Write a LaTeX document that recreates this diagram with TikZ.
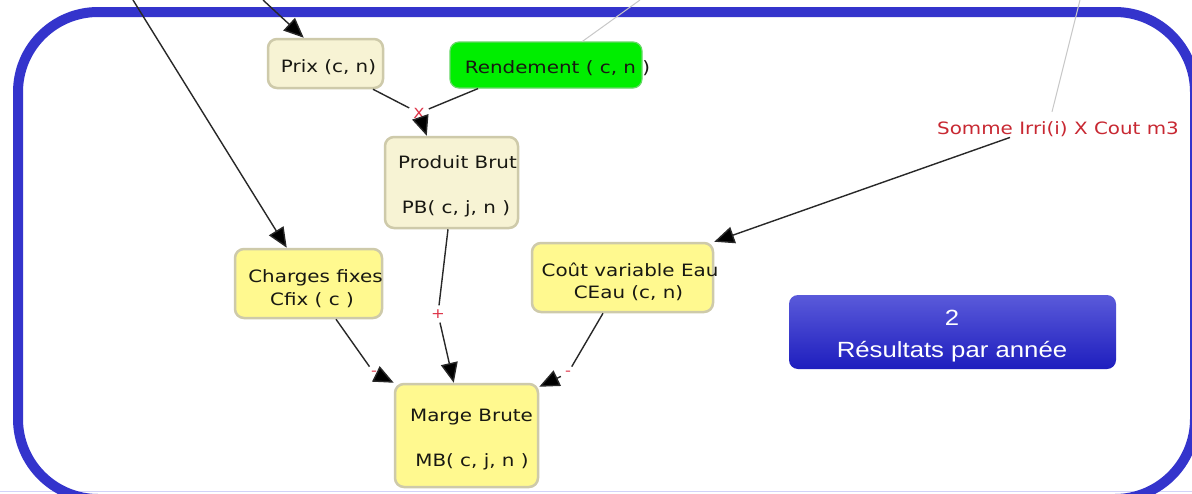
\documentclass[tikz,border=0pt]{standalone}
\usepackage{fontspec}
\setmainfont[FakeStretch=1.17]{DejaVu Sans}
\newfontfamily\btnfont[FakeStretch=1.17]{Liberation Sans}
\usetikzlibrary{arrows.meta,calc}
\definecolor{frameblue}{RGB}{52,52,204}
\definecolor{cream}{RGB}{247,243,212}
\definecolor{yel}{RGB}{255,249,143}
\definecolor{boxborder}{RGB}{206,202,170}
\definecolor{vgreen}{RGB}{0,238,0}
\definecolor{txtdark}{RGB}{24,24,18}
\definecolor{lblred}{RGB}{222,52,72}
\definecolor{somred}{RGB}{200,40,50}
\definecolor{conncol}{RGB}{40,40,40}
\definecolor{graycol}{RGB}{200,200,200}
\definecolor{btntop}{RGB}{90,90,218}
\definecolor{btnbot}{RGB}{30,30,190}
\definecolor{lav}{RGB}{210,210,248}
\begin{document}
\begin{tikzpicture}[x=1pt,y=-1pt,
  cbox/.style={draw=boxborder, line width=2.5pt, rounded corners=9pt, fill=cream, inner sep=0pt},
  ybox/.style={draw=boxborder, line width=2.5pt, rounded corners=9pt, fill=yel, inner sep=0pt},
  gbox/.style={draw=vgreen!80!black!60, line width=1.2pt, rounded corners=9pt, fill=vgreen, inner sep=0pt},
  txt/.style={anchor=base, inner sep=0pt, text=txtdark, font=\fontsize{17}{20}\selectfont},
  lbl/.style={inner sep=4pt, text=lblred, font=\fontsize{14}{14}\selectfont},
  conn/.style={draw=conncol, line width=1.4pt},
  arr/.style={-{Triangle[length=20pt,width=17pt,fill=black]}},
  grayline/.style={draw=graycol, line width=1pt},
  btn/.style={rounded corners=9pt, top color=btntop, bottom color=btnbot, draw=none, inner sep=0pt},
  btntxt/.style={anchor=base, inner sep=0pt, text=white, font=\btnfont\fontsize{22}{26}\selectfont}
]
\useasboundingbox (0,0) rectangle (1192,493);
\clip (0,0) rectangle (1192,493);
\fill[white] (0,0) rectangle (1192,493);
\draw[lav, line width=1.5pt] (0,491.5) -- (1192,491.5);
\draw[frameblue, line width=10pt, rounded corners=80pt] (18,12) rectangle (1195,499);

% free ends
\coordinate (a1) at (133,0);
\coordinate (a2) at (263,0);
\coordinate (a3) at (640,0);
\coordinate (a4) at (1080,0);

% boxes
\node[cbox, minimum width=115pt, minimum height=49pt] (prix) at (325.5,63.5) {};
\node[txt] (prixT) at (328.5,72) {Prix (c, n)};
\node[gbox, minimum width=192pt, minimum height=46pt] (rend) at (546,65) {};
\node[txt] (rendT) at (557.5,73) {Rendement ( c, n )};
\node[cbox, minimum width=133pt, minimum height=91pt] (prod) at (451.5,182.5) {};
\node[txt] (prodT1) at (457.5,168) {Produit Brut};
\node[txt] (prodT2) at (456,213) {PB( c, j, n )};
\node[ybox, minimum width=147pt, minimum height=69pt] (chg) at (308.5,283.5) {};
\node[txt] (chgT1) at (315.5,282) {Charges fixes};
\node[txt] (chgT2) at (312,305) {Cfix ( c )};
\node[ybox, minimum width=181pt, minimum height=69pt] (cout) at (622.5,277.5) {};
\node[txt] (coutT1) at (630,276) {Coût variable Eau};
\node[txt] (coutT2) at (628.5,298) {CEau (c, n)};
\node[ybox, minimum width=143pt, minimum height=103pt] (marge) at (466.5,435.5) {};
\node[txt] (margeT1) at (471.5,421) {Marge Brute};
\node[txt] (margeT2) at (472,466) {MB( c, j, n )};
\node[txt, text=somred, inner sep=1pt] (som) at (1058,134) {Somme Irri(i) X Cout m3};

% operator labels
\node[lbl] (x) at (419,113) {X};
\node[lbl] (plus) at (438,314) {+};
\node[lbl] (m1) at (374,373) {-};
\node[lbl] (m2) at (568,373) {-};

% result button
\node[btn, minimum width=327pt, minimum height=74pt] (res) at (952.5,332) {};
\node[btntxt] (resT1) at (952,325) {2};
\node[btntxt] (resT2) at (952,357) {Résultats par année};

% connectors
\draw[conn, arr] (a1) -- ([xshift=53pt]chg.north west);
\draw[conn, arr] (a2) -- ([xshift=37pt]prix.north west);
\draw[grayline] (a3) -- ([xshift=133pt]rend.north west);
\draw[grayline] (a4) -- ([xshift=-6pt,yshift=8pt]som.north);
\draw[conn] ([xshift=47.5pt]prix.south) -- (x);
\draw[conn] ([xshift=-68pt]rend.south) -- (x);
\draw[conn, arr] (x) -- ([xshift=43pt]prod.north west);
\draw[conn] ([xshift=-3.5pt]prod.south) -- (plus);
\draw[conn, arr] (plus) -- ([xshift=60pt]marge.north west);
\draw[conn] ([xshift=27.5pt]chg.south) -- (m1);
\draw[conn, arr] (m1) -- (marge.north west);
\draw[conn] ([xshift=-19.5pt]cout.south) -- (m2);
\draw[conn, arr] (m2) -- ([yshift=-4pt]marge.north east);
\draw[conn, arr] ([xshift=-48pt]som.south) -- (cout.north east);
\end{tikzpicture}
\end{document}
